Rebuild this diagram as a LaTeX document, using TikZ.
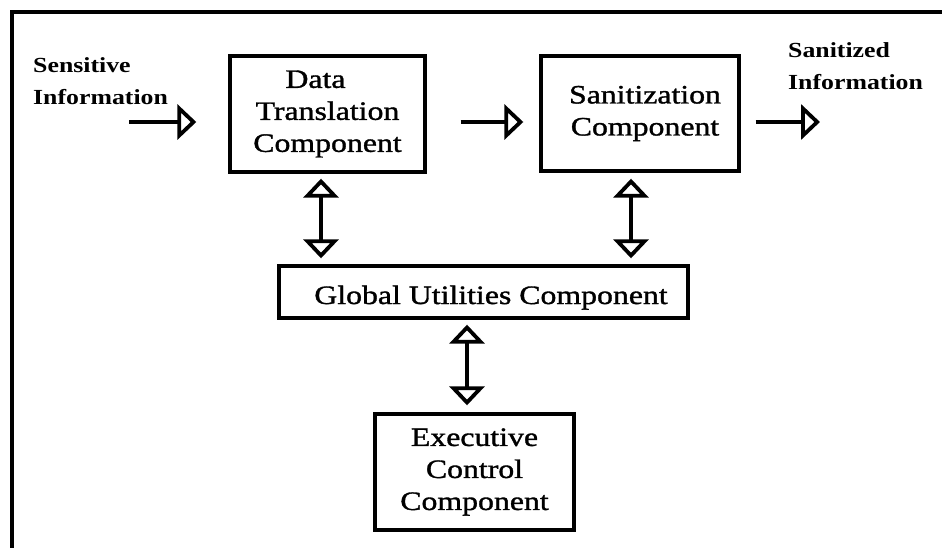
\documentclass[tikz,border=0pt]{standalone}
\usepackage{fontspec}
\setmainfont{Liberation Serif}[FakeStretch=1.2]
\newfontfamily\boxfont{Liberation Serif}[FakeStretch=1.2, FakeBold=1.3]
\usetikzlibrary{arrows.meta,calc}

\tikzset{
  opentip/.tip={Triangle[open, width=35pt, length=19pt]},
  comp/.style={draw, line width=3.4pt, align=center, inner sep=0pt,
    font=\boxfont\fontsize{26.5}{32}\selectfont},
  lbl/.style={align=left, inner sep=0pt, anchor=base west,
    font=\bfseries\fontsize{21.5}{32}\selectfont},
  flow/.style={line width=3.8pt, -opentip},
  dbl/.style={line width=3.8pt, opentip-opentip},
}

\begin{document}
\begin{tikzpicture}[x=1pt, y=-1pt]
  \useasboundingbox (0,0) rectangle (942,548);

  % frame (top and left edges)
  \draw[line width=4pt] (12,548) -- (12,12) -- (942,12);

  % components
  \node[comp, minimum width=195pt, minimum height=116pt] (dt) at (327.5,114)
    {Data\hspace*{24pt}\\Translation\\Component};
  \node[comp, minimum width=198pt, minimum height=115pt] (san) at (640,113.5)
    {\hspace*{10pt}Sanitization\\\hspace*{10pt}Component};
  \node[comp, minimum width=409pt, minimum height=52pt,
        text height=24pt, text depth=0pt] (glob) at (483.5,292)
    {\hspace*{15pt}Global Utilities Component};
  \node[comp, minimum width=199pt, minimum height=116pt] (exec) at (474.5,472)
    {Executive\\Control\\Component};

  % external labels
  \node[lbl] (inlbl) at (33,105) {Sensitive\\Information};
  \node[lbl] (outlbl) at (788,90) {Sanitized\\Information};

  % data flow
  \coordinate (instart) at (129,122);
  \coordinate (outend) at (820,122);
  \draw[flow] (instart) -- ($(dt.west |- instart)+(-32,0)$);
  \draw[flow] ($(dt.east |- instart)+(34,0)$) -- ($(san.west |- instart)+(-16,0)$);
  \draw[flow] ($(san.east |- outend)+(15,0)$) -- (outend);

  % links to the global utilities
  \draw[dbl] ($(dt.south)+(-6.5,5)$) -- ($(dt.south |- glob.north)+(-6.5,-6)$);
  \draw[dbl] ($(san.south)+(-9,6)$) -- ($(san.south |- glob.north)+(-9,-6)$);
  \draw[dbl] ($(exec.north)+(-7.5,-7)$) -- ($(exec.north |- glob.south)+(-7.5,5)$);
\end{tikzpicture}
\end{document}
